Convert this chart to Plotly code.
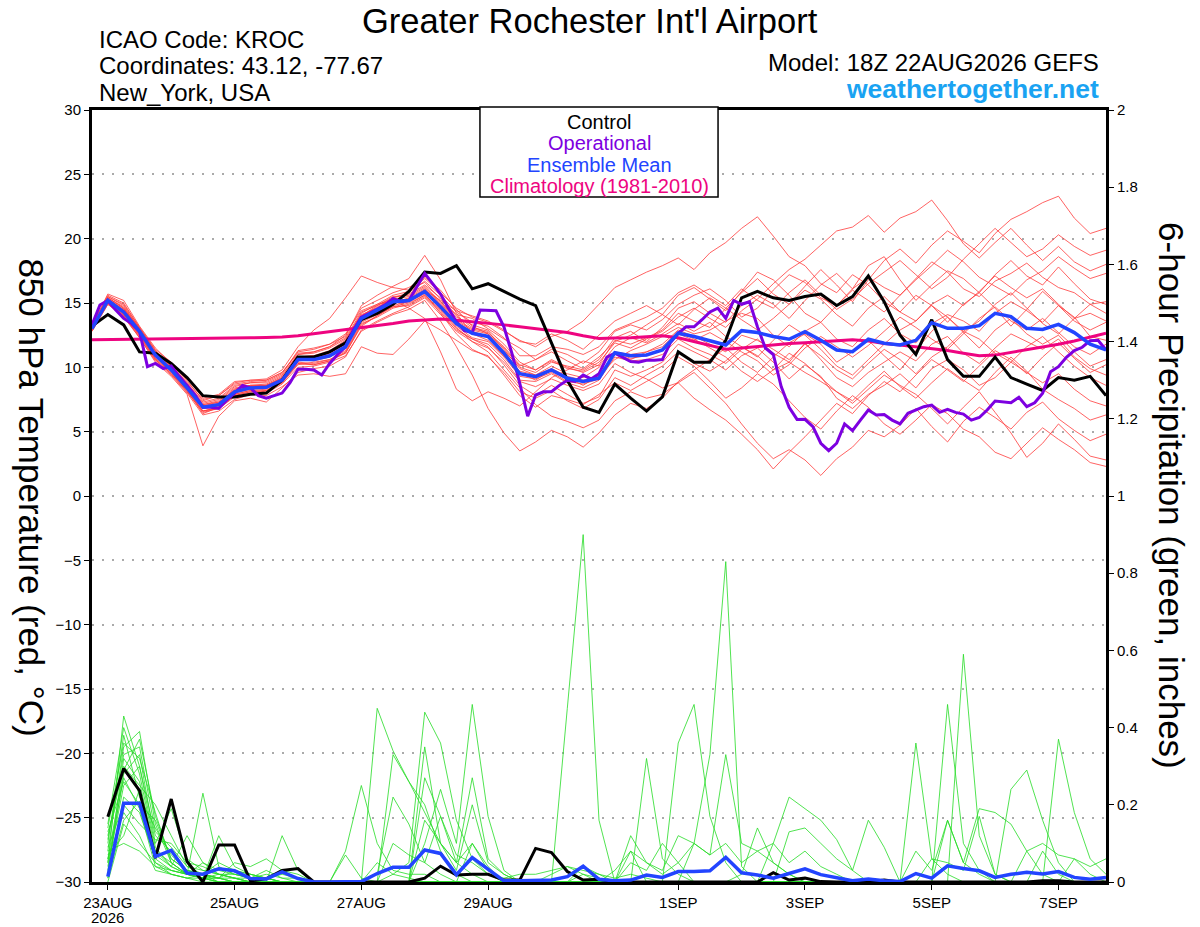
import pandas as pd
import plotly.graph_objects as go

# time axes (6-hourly temps from analysis, 3-hourly operational, 6-hour precip totals)
temp_times = pd.date_range("2026-08-22 18:00", periods=65, freq="6h")
oper_times = pd.date_range("2026-08-22 18:00", periods=129, freq="3h")
precip_times = pd.date_range("2026-08-23 00:00", periods=64, freq="6h")

# 850 hPa temperature (C)
control_t = [13.2, 14.1, 13.3, 11.2, 11.1, 10.3, 9.2, 7.8, 7.7, 7.7, 7.9, 8.0, 9.0, 10.8, 10.8, 11.2, 11.9,
             13.7, 14.2, 14.9, 15.9, 17.4, 17.3, 17.9, 16.1, 16.5, 15.9, 15.3, 14.8, 11.9, 9.0, 6.9, 6.5,
             8.7, 7.6, 6.6, 7.7, 11.2, 10.4, 10.4, 12.1, 15.4, 15.9, 15.4, 15.2, 15.5, 15.7, 14.8, 15.5,
             17.1, 15.1, 12.5, 11.0, 13.7, 10.6, 9.3, 9.3, 10.8, 9.2, 8.7, 8.2, 9.2, 9.0, 9.3, 7.8]

mean_t = [13.0, 15.2, 14.3, 12.8, 10.95, 9.8, 8.4, 6.9, 7.1, 8.1, 8.4, 8.45, 9.0, 10.6, 10.6, 10.9, 11.6,
          13.8, 14.45, 15.1, 15.2, 15.9, 14.7, 13.4, 12.65, 12.4, 11.1, 9.5, 9.27, 9.8, 9.15, 8.9, 9.15,
          11.14, 10.9, 10.96, 11.35, 12.65, 12.4, 12.1, 11.74, 12.85, 12.7, 12.4, 12.18, 12.77, 12.1, 11.35,
          11.22, 12.18, 11.87, 11.74, 12.1, 13.47, 13.03, 13.03, 13.24, 14.2, 13.94, 13.03, 12.95, 13.34,
          12.7, 11.8, 11.35]

clim_t = [12.15, 12.16, 12.17, 12.18, 12.2, 12.21, 12.22, 12.24, 12.25, 12.27, 12.3, 12.32, 12.35, 12.45,
          12.6, 12.75, 12.9, 13.05, 13.25, 13.4, 13.6, 13.7, 13.75, 13.65, 13.55, 13.45, 13.3, 13.15, 13.0,
          12.85, 12.7, 12.45, 12.25, 12.28, 12.3, 12.38, 12.45, 12.3, 12.0, 11.7, 11.4, 11.5, 11.62, 11.74,
          11.85, 11.92, 12.0, 12.1, 12.15, 12.05, 11.85, 11.74, 11.6, 11.45, 11.3, 11.1, 10.9, 10.95, 11.15,
          11.35, 11.55, 11.8, 12.05, 12.35, 12.65]

oper_t = [13.3, 14.85, 15.2, 14.45, 13.8, 13.4, 12.8, 10.05, 10.3, 9.9, 10.1, 9.3, 8.6, 7.85, 6.9, 6.9,
          6.8, 7.45, 8.0, 8.6, 8.4, 7.8, 7.6, 7.8, 8.0, 8.8, 9.85, 9.85, 9.8, 9.4, 10.3, 11.0, 11.6, 12.9,
          13.9, 14.2, 14.5, 14.85, 15.35, 15.1, 15.2, 16.3, 17.3, 16.5, 15.7, 14.6, 13.55, 12.85, 12.7,
          14.45, 14.4, 14.4, 13.15, 11.1, 8.75, 6.2, 7.85, 8.1, 8.1, 8.6, 9.0, 8.9, 9.4, 9.1, 9.5, 10.8,
          11.1, 10.8, 10.45, 10.4, 10.55, 10.55, 10.6, 11.9, 12.65, 13.15, 13.15, 13.7, 14.3, 14.6, 13.8,
          15.2, 14.9, 15.1, 13.15, 11.5, 11.0, 8.5, 6.9, 5.95, 5.96, 5.39, 4.1, 3.52, 4.1, 5.6, 5.08, 5.9,
          6.68, 6.3, 6.33, 5.9, 5.6, 6.43, 6.68, 6.94, 7.07, 6.5, 6.74, 6.5, 6.37, 5.9, 6.1, 6.68, 7.38,
          7.33, 7.25, 7.67, 6.94, 7.25, 7.98, 9.66, 10.05, 10.78, 11.3, 11.56, 12.07, 12.1, 11.35]

members_t = [
    [13.1, 15.5, 14.8, 13.0, 11.2, 10.0, 8.6, 7.0, 7.3, 8.3, 8.6, 8.7, 9.3, 11.0, 11.2, 11.6, 12.5, 14.6, 15.2,
     15.8, 16.2, 17.0, 16.0, 14.5, 13.2, 12.6, 11.3, 10.0, 9.6, 10.4, 10.1, 9.8, 10.6, 12.3, 12.8, 12.0, 13.1,
     14.6, 15.1, 14.2, 13.5, 14.8, 15.6, 14.9, 13.8, 15.2, 16.4, 17.3, 16.1, 17.9, 18.6, 16.8, 15.2, 16.4,
     17.5, 16.9, 15.8, 17.2, 18.3, 17.1, 16.4, 17.8, 16.5, 15.3, 14.9],
    [12.9, 15.0, 14.1, 12.6, 10.7, 9.6, 8.2, 6.4, 6.9, 7.9, 8.2, 8.1, 8.8, 10.2, 10.4, 10.6, 11.1, 13.2, 14.0,
     14.8, 15.1, 15.7, 14.2, 12.6, 11.4, 10.8, 9.6, 8.1, 7.6, 8.2, 7.4, 6.8, 7.5, 9.2, 8.6, 9.4, 10.1, 11.2,
     10.3, 9.7, 10.5, 11.6, 10.9, 9.8, 10.4, 11.9, 10.6, 9.2, 8.5, 9.6, 10.4, 11.2, 10.5, 11.8, 12.4, 11.1,
     10.3, 11.5, 12.6, 12.0, 11.4, 12.2, 10.8, 9.9, 9.4],
    [13.3, 15.6, 15.0, 13.1, 11.4, 10.4, 9.2, 7.6, 7.9, 8.9, 9.0, 9.1, 9.8, 11.6, 12.9, 13.8, 15.4, 17.1, 16.6,
     16.2, 16.0, 16.6, 15.3, 14.1, 13.8, 13.0, 12.2, 11.5, 10.6, 11.2, 10.5, 9.9, 10.8, 12.0, 12.5, 13.3,
     14.1, 15.6, 16.2, 15.3, 14.4, 15.9, 17.4, 16.8, 15.6, 14.2, 13.5, 14.8, 16.0, 15.2, 14.3, 15.6, 16.9,
     18.2, 17.4, 16.1, 15.5, 16.7, 17.3, 18.1, 17.0, 16.2, 15.8, 14.9, 15.1],
    [12.8, 14.9, 14.0, 12.3, 10.4, 9.3, 7.9, 3.9, 6.2, 7.4, 7.6, 7.3, 8.4, 9.6, 9.9, 10.1, 10.8, 12.9, 13.6,
     14.2, 14.7, 15.4, 14.1, 12.9, 12.2, 11.6, 10.2, 8.6, 7.8, 8.6, 7.9, 7.2, 7.7, 9.8, 9.3, 9.8, 10.4, 11.8,
     11.2, 10.6, 9.8, 10.9, 11.5, 10.4, 9.1, 10.2, 9.3, 7.6, 6.8, 7.9, 8.6, 9.5, 8.4, 9.9, 10.6, 9.8, 8.6,
     9.2, 10.4, 9.6, 8.8, 9.5, 8.3, 7.4, 7.0],
    [13.0, 15.3, 14.5, 12.9, 11.0, 9.9, 8.5, 6.8, 7.2, 8.2, 8.5, 8.6, 9.1, 10.7, 10.8, 11.2, 11.9, 14.0, 14.8,
     15.5, 15.6, 16.3, 15.1, 13.9, 13.3, 12.9, 11.8, 10.4, 9.8, 10.6, 10.0, 9.6, 10.2, 12.1, 11.8, 12.3, 12.9,
     14.2, 13.6, 13.1, 14.6, 15.8, 16.9, 15.7, 14.9, 16.3, 17.6, 16.4, 15.1, 16.8, 18.3, 19.2, 18.1, 19.5,
     20.6, 19.8, 18.9, 20.4, 21.5, 22.1, 22.8, 23.3, 21.6, 20.4, 20.8],
    [13.2, 15.1, 14.2, 12.7, 10.9, 9.7, 8.3, 6.6, 6.9, 7.8, 8.1, 8.2, 8.9, 10.3, 10.2, 10.5, 11.2, 13.4, 13.9,
     14.6, 14.9, 15.6, 14.5, 13.1, 12.0, 11.2, 9.8, 8.4, 7.1, 6.2, 5.8, 5.3, 5.9, 7.4, 8.1, 7.6, 7.9, 8.8,
     9.6, 8.4, 7.2, 5.6, 4.1, 2.9, 3.6, 2.8, 1.6, 2.9, 3.8, 5.1, 4.6, 5.5, 6.8, 5.4, 4.2, 5.8, 6.9, 6.1, 5.2,
     6.5, 7.3, 6.0, 5.1, 4.3, 4.8],
    [13.0, 15.4, 14.6, 13.0, 11.1, 10.1, 8.7, 7.2, 7.5, 8.5, 8.8, 8.9, 9.5, 11.3, 11.5, 11.8, 12.6, 14.4, 14.9,
     15.6, 15.9, 16.9, 15.8, 14.6, 13.9, 13.5, 12.8, 12.1, 11.6, 12.4, 12.8, 13.6, 14.9, 16.2, 16.8, 17.4,
     17.9, 18.5, 17.6, 18.9, 19.7, 20.8, 21.7, 20.2, 18.6, 17.9, 16.5, 15.8, 17.2, 16.4, 15.1, 14.3, 15.6,
     14.8, 13.5, 14.9, 15.8, 14.6, 13.2, 14.5, 15.9, 14.8, 13.6, 12.9, 13.5],
    [12.9, 15.0, 14.0, 12.4, 10.6, 9.5, 8.1, 6.5, 6.8, 7.7, 8.0, 8.0, 8.7, 10.0, 10.1, 10.4, 10.9, 12.8, 13.5,
     14.1, 14.5, 15.2, 13.6, 11.6, 9.4, 6.8, 4.9, 3.5, 4.2, 5.1, 4.6, 3.8, 4.9, 6.3, 7.2, 6.8, 7.6, 8.9, 9.8,
     10.6, 11.5, 10.4, 9.6, 10.8, 11.9, 12.6, 11.8, 10.4, 11.2, 12.1, 10.9, 9.8, 11.3, 12.8, 13.9, 12.7, 11.5,
     12.9, 13.8, 12.6, 11.8, 12.5, 11.2, 10.1, 10.6],
    [13.2, 15.7, 15.2, 13.2, 11.5, 10.3, 9.0, 7.4, 7.8, 8.7, 8.9, 9.0, 9.6, 11.2, 11.4, 11.8, 12.4, 14.8, 15.6,
     16.3, 16.9, 18.7, 16.8, 14.2, 12.6, 12.1, 10.9, 9.6, 9.0, 9.8, 9.2, 8.6, 9.4, 10.6, 11.3, 11.8, 12.4,
     13.1, 12.6, 12.9, 13.6, 14.2, 13.8, 12.5, 11.6, 12.8, 13.5, 12.2, 11.6, 12.9, 13.8, 12.6, 11.9, 13.4,
     14.1, 13.6, 12.8, 14.2, 15.1, 14.4, 13.5, 14.8, 13.9, 12.4, 12.1],
    [13.1, 15.2, 14.4, 12.9, 11.0, 9.9, 8.6, 7.1, 7.4, 8.4, 8.6, 8.6, 9.2, 10.8, 10.9, 11.3, 12.1, 14.2, 14.9,
     15.2, 14.6, 13.8, 11.2, 8.3, 7.4, 8.1, 7.6, 7.0, 8.1, 9.2, 9.8, 10.5, 10.1, 11.6, 12.3, 11.9, 12.6, 13.4,
     12.8, 13.5, 12.4, 11.6, 10.8, 12.1, 13.3, 12.5, 11.4, 10.1, 9.4, 10.6, 11.8, 12.9, 13.6, 14.9, 15.6,
     14.8, 15.9, 17.1, 16.2, 15.4, 16.1, 14.9, 13.8, 14.2, 13.6],
    [12.8, 14.9, 13.9, 12.3, 10.5, 9.4, 8.0, 6.3, 6.6, 7.5, 7.9, 7.8, 8.5, 9.4, 9.5, 9.3, 9.5, 11.6, 11.1,
     11.0, 12.2, 13.6, 12.9, 12.1, 11.3, 10.9, 9.4, 7.8, 6.9, 7.8, 7.5, 7.1, 7.9, 8.8, 8.2, 8.9, 9.6, 10.8,
     10.1, 8.9, 7.6, 8.4, 9.5, 8.7, 7.4, 6.1, 5.2, 6.6, 7.8, 6.9, 5.6, 4.8, 5.9, 7.1, 6.4, 5.2, 4.6, 3.4, 2.9,
     4.1, 5.3, 4.4, 3.6, 2.6, 2.3],
    [13.0, 15.3, 14.3, 12.8, 11.0, 9.8, 8.4, 6.9, 7.0, 8.0, 8.3, 8.4, 9.0, 10.6, 10.5, 10.8, 11.5, 13.6, 14.3,
     15.0, 15.4, 16.1, 15.0, 13.6, 12.9, 12.6, 11.5, 10.1, 10.6, 11.4, 11.0, 10.3, 11.2, 12.8, 13.3, 12.9,
     13.7, 14.9, 15.6, 16.1, 15.2, 13.9, 14.6, 16.0, 17.2, 16.6, 15.4, 14.8, 16.1, 17.0, 16.2, 15.6, 16.8,
     17.9, 19.1, 18.2, 17.0, 16.3, 15.6, 16.8, 17.5, 18.6, 17.7, 16.9, 17.3],
    [13.1, 15.4, 14.7, 13.0, 11.3, 10.2, 8.8, 7.3, 7.6, 8.6, 8.8, 8.8, 9.4, 11.0, 11.1, 11.5, 12.2, 14.1, 14.6,
     15.4, 15.7, 16.4, 15.4, 14.0, 13.1, 12.8, 11.4, 9.9, 9.4, 10.1, 9.5, 9.2, 10.0, 11.1, 10.6, 11.2, 11.8,
     12.9, 12.4, 11.8, 11.2, 12.5, 12.1, 11.4, 10.6, 11.8, 10.9, 9.8, 9.1, 10.3, 11.4, 10.6, 9.5, 10.8, 11.6,
     12.8, 12.2, 11.1, 10.4, 11.6, 12.4, 11.2, 10.1, 9.2, 8.6],
    [13.0, 15.2, 14.4, 12.8, 10.9, 9.8, 8.4, 6.9, 7.1, 8.1, 8.4, 8.5, 9.1, 10.7, 10.7, 11.1, 11.8, 13.9, 14.5,
     15.1, 15.3, 16.0, 15.2, 14.4, 14.0, 13.6, 12.9, 12.0, 11.8, 12.6, 12.1, 11.4, 12.5, 13.6, 14.2, 14.8,
     14.1, 13.3, 14.5, 15.4, 14.6, 13.7, 12.9, 13.8, 14.9, 16.0, 15.3, 14.1, 13.2, 14.6, 15.5, 14.3, 13.6,
     14.8, 13.9, 12.8, 13.6, 14.9, 15.8, 14.6, 13.4, 12.6, 13.8, 14.9, 14.2],
    [12.9, 15.1, 14.1, 12.5, 10.7, 9.6, 8.2, 6.6, 6.9, 7.9, 8.2, 8.3, 8.9, 10.4, 10.3, 10.6, 11.3, 13.5, 14.1,
     14.7, 14.8, 15.5, 14.3, 12.8, 12.0, 11.5, 10.4, 8.9, 8.5, 9.1, 8.6, 8.2, 8.7, 10.3, 9.6, 9.1, 8.4, 8.8,
     7.6, 6.7, 5.9, 4.8, 3.6, 2.1, 3.4, 4.6, 5.9, 7.2, 6.4, 7.8, 8.9, 8.1, 9.4, 10.6, 9.8, 8.9, 10.1, 11.3,
     10.6, 9.5, 10.8, 11.9, 10.7, 9.6, 10.2],
    [13.1, 15.3, 14.5, 13.0, 11.1, 10.0, 8.6, 7.1, 7.3, 8.2, 8.5, 8.6, 9.2, 10.8, 10.9, 11.2, 12.0, 14.0, 14.7,
     15.3, 15.5, 16.2, 15.1, 13.7, 13.0, 12.7, 11.6, 10.2, 9.8, 10.5, 9.9, 9.7, 10.4, 11.9, 11.5, 12.2, 12.8,
     13.9, 14.6, 13.8, 13.1, 14.4, 15.3, 16.5, 17.6, 18.4, 19.5, 20.6, 20.9, 21.8, 20.5, 21.6, 22.1, 23.0,
     21.4, 19.6, 18.5, 19.7, 20.8, 19.5, 18.3, 19.4, 18.2, 17.5, 18.0],
    [12.9, 15.0, 14.0, 12.5, 10.6, 9.5, 8.1, 6.6, 6.8, 7.8, 8.1, 8.2, 8.8, 10.3, 10.2, 10.5, 11.1, 13.3, 14.0,
     14.7, 15.0, 15.6, 14.4, 13.0, 12.2, 11.8, 10.6, 9.0, 8.9, 9.5, 8.8, 8.4, 9.0, 10.8, 10.5, 10.6, 11.0,
     12.2, 11.5, 11.0, 10.3, 11.4, 12.2, 11.1, 10.4, 9.6, 8.9, 8.1, 7.2, 8.3, 9.4, 8.6, 7.9, 6.8, 5.6, 6.9,
     8.1, 6.5, 4.9, 3.0, 4.1, 5.6, 4.4, 3.1, 2.8],
    [13.2, 15.5, 14.9, 13.1, 11.3, 10.1, 8.9, 7.5, 7.8, 8.8, 9.0, 9.0, 9.6, 11.1, 11.2, 11.6, 12.3, 14.3, 14.8,
     15.4, 15.8, 16.7, 15.6, 14.3, 13.5, 13.2, 12.3, 10.9, 10.9, 11.6, 11.4, 11.0, 11.6, 12.9, 13.4, 13.9,
     14.6, 15.8, 16.4, 15.6, 14.8, 16.1, 15.2, 14.6, 15.8, 16.8, 15.6, 14.5, 15.3, 16.5, 17.4, 18.3, 17.2,
     16.1, 17.0, 18.4, 19.6, 20.8, 19.7, 18.6, 19.2, 20.3, 19.4, 18.7, 19.1],
    [13.0, 15.2, 14.3, 12.7, 10.8, 9.7, 8.4, 6.8, 7.0, 8.1, 8.4, 8.5, 9.0, 10.5, 10.6, 10.8, 11.6, 13.7, 14.4,
     15.0, 15.1, 15.8, 14.6, 13.2, 12.3, 12.0, 10.8, 9.3, 9.1, 9.6, 8.9, 8.7, 9.1, 11.2, 10.7, 10.9, 11.4,
     12.6, 12.1, 12.7, 12.0, 11.2, 10.5, 9.4, 10.2, 11.5, 12.4, 11.6, 10.8, 11.7, 12.8, 13.9, 13.1, 12.2,
     11.4, 12.6, 13.8, 14.7, 13.6, 12.9, 13.8, 12.7, 11.6, 11.0, 11.8],
    [13.1, 15.4, 14.6, 12.9, 11.0, 9.9, 8.6, 7.0, 7.2, 8.3, 8.6, 8.6, 9.1, 10.7, 10.8, 11.0, 11.7, 13.8, 14.5,
     15.2, 15.3, 16.0, 14.9, 13.5, 12.8, 12.4, 11.2, 9.7, 9.4, 9.9, 9.3, 9.0, 9.3, 11.2, 11.0, 11.2, 11.6,
     12.8, 12.2, 11.5, 10.8, 9.7, 8.9, 9.8, 11.1, 10.3, 9.2, 8.1, 7.4, 8.6, 9.7, 8.5, 7.6, 8.8, 9.9, 9.0, 8.2,
     9.6, 10.8, 9.7, 8.3, 7.5, 6.8, 5.9, 6.3],
]

# 6-hour precipitation (inches)
control_p = [0.169, 0.294, 0.237, 0.062, 0.215, 0.053, 0.0, 0.096, 0.096, 0.003,
             0.008, 0.03, 0.035, 0, 0, 0, 0, 0, 0, 0,
             0.01, 0.041, 0.018, 0.02, 0.02, 0.005, 0.005, 0.087, 0.076, 0.027,
             0.005, 0.007, 0, 0, 0, 0, 0, 0, 0, 0,
             0, 0, 0.024, 0.005, 0.01, 0.001, 0, 0, 0, 0.005,
             0, 0, 0, 0, 0, 0, 0, 0, 0, 0.003,
             0.003, 0, 0, 0]

mean_p = [0.014, 0.204, 0.204, 0.066, 0.082, 0.023, 0.02, 0.034, 0.029, 0.009,
          0.008, 0.026, 0.009, 0, 0, 0, 0.001, 0.022, 0.038, 0.038,
          0.083, 0.074, 0.019, 0.063, 0.033, 0.003, 0.003, 0.005, 0.005, 0.014,
          0.041, 0.007, 0.003, 0.005, 0.018, 0.012, 0.027, 0.027, 0.029, 0.064,
          0.024, 0.018, 0.01, 0.022, 0.034, 0.019, 0.01, 0.003, 0.008, 0.003,
          0.001, 0.022, 0.01, 0.042, 0.035, 0.029, 0.012, 0.02, 0.025, 0.021,
          0.027, 0.012, 0.007, 0.012]

members_p = [
    [0.05, 0.43, 0.30, 0.12, 0.08, 0.03, 0.02, 0.01, 0, 0, 0, 0, 0, 0, 0, 0, 0, 0.45, 0.34, 0.26,
     0.18, 0.10, 0.05, 0.02, 0, 0, 0, 0, 0, 0.45, 0.90, 0.16, 0, 0, 0, 0, 0, 0, 0, 0,
     0, 0, 0, 0, 0, 0, 0, 0, 0, 0, 0, 0, 0, 0, 0, 0, 0, 0, 0, 0, 0, 0, 0, 0],
    [0.08, 0.35, 0.39, 0.15, 0.05, 0.02, 0.01, 0, 0, 0, 0, 0, 0, 0, 0, 0, 0, 0, 0.02, 0.05,
     0.44, 0.36, 0.16, 0.06, 0.02, 0, 0, 0, 0, 0, 0.02, 0, 0, 0, 0.32, 0.06, 0.02, 0, 0, 0,
     0, 0, 0, 0, 0, 0, 0, 0, 0, 0, 0, 0.36, 0.06, 0.02, 0, 0, 0, 0, 0, 0, 0, 0, 0, 0],
    [0.12, 0.30, 0.25, 0.20, 0.12, 0.04, 0.02, 0, 0, 0, 0, 0, 0, 0, 0, 0, 0, 0, 0, 0,
     0.10, 0.24, 0.10, 0.46, 0.17, 0.03, 0, 0, 0, 0, 0, 0, 0, 0, 0, 0, 0.36, 0.46, 0.17, 0.05,
     0, 0, 0, 0, 0, 0, 0, 0, 0, 0, 0, 0, 0, 0, 0, 0, 0, 0, 0, 0, 0, 0, 0, 0],
    [0.03, 0.28, 0.33, 0.10, 0.19, 0.06, 0.03, 0.02, 0.01, 0, 0, 0.12, 0.03, 0, 0, 0, 0, 0, 0, 0,
     0.27, 0.17, 0.05, 0.27, 0.06, 0.02, 0, 0, 0, 0, 0, 0, 0, 0, 0, 0, 0, 0.10, 0.33, 0.83,
     0.04, 0, 0, 0, 0, 0, 0, 0, 0, 0, 0, 0, 0, 0, 0, 0, 0, 0, 0, 0, 0, 0, 0, 0],
    [0.01, 0.22, 0.18, 0.06, 0.03, 0.02, 0.23, 0.04, 0.02, 0.01, 0.02, 0.01, 0, 0, 0, 0, 0, 0.02, 0.22, 0.15,
     0.05, 0.02, 0, 0.10, 0.03, 0, 0, 0, 0, 0, 0, 0, 0, 0, 0, 0, 0, 0, 0, 0,
     0.02, 0.14, 0.05, 0.02, 0, 0, 0, 0, 0, 0, 0, 0, 0, 0, 0.59, 0.12, 0.02, 0, 0, 0, 0, 0, 0, 0],
    [0.15, 0.40, 0.28, 0.08, 0.05, 0.02, 0.01, 0.12, 0.04, 0.02, 0.01, 0, 0, 0, 0, 0, 0, 0, 0, 0,
     0, 0, 0, 0, 0, 0, 0, 0, 0, 0, 0.04, 0.02, 0, 0.12, 0.05, 0.03, 0.12, 0.10, 0.07, 0.10,
     0.05, 0.08, 0.10, 0.22, 0.19, 0.16, 0.11, 0.03, 0, 0, 0, 0, 0, 0, 0, 0, 0, 0, 0, 0, 0, 0, 0, 0],
    [0.06, 0.18, 0.12, 0.03, 0.02, 0.01, 0.02, 0.01, 0.05, 0.04, 0.06, 0.03, 0.02, 0, 0, 0.07, 0.01, 0, 0, 0,
     0, 0, 0, 0, 0, 0, 0, 0, 0, 0, 0, 0, 0, 0.08, 0, 0, 0, 0, 0, 0,
     0, 0, 0, 0.13, 0.14, 0.10, 0.06, 0.03, 0.16, 0.09, 0, 0, 0, 0, 0, 0, 0, 0, 0, 0, 0, 0, 0, 0],
    [0, 0.15, 0.10, 0.05, 0.03, 0.02, 0.01, 0, 0, 0, 0, 0, 0, 0, 0, 0.08, 0.25, 0.10, 0.03, 0.02,
     0.02, 0, 0, 0, 0, 0, 0, 0, 0, 0, 0, 0, 0, 0.05, 0.03, 0.10, 0.05, 0, 0, 0,
     0, 0, 0, 0, 0, 0, 0, 0, 0, 0, 0, 0.08, 0.03, 0.16, 0.05, 0.19, 0.18, 0.15, 0.08, 0.02, 0, 0, 0, 0],
    [0.10, 0.38, 0.22, 0.14, 0.07, 0.03, 0.02, 0.01, 0, 0, 0, 0, 0, 0, 0, 0, 0, 0, 0, 0,
     0.35, 0.10, 0.03, 0.20, 0.05, 0.02, 0, 0, 0, 0, 0, 0, 0, 0, 0, 0, 0, 0, 0, 0,
     0, 0, 0, 0, 0, 0, 0, 0, 0, 0, 0, 0, 0, 0.46, 0.10, 0.03, 0, 0.24, 0.29, 0.16, 0.05, 0, 0, 0],
    [0.04, 0.25, 0.30, 0.09, 0.04, 0.12, 0.05, 0.03, 0.02, 0.01, 0.01, 0.02, 0.01, 0, 0, 0, 0, 0, 0.33, 0.26,
     0.20, 0.08, 0.02, 0, 0, 0, 0, 0, 0, 0, 0, 0, 0, 0, 0, 0, 0, 0, 0, 0,
     0, 0, 0, 0, 0, 0, 0, 0, 0, 0, 0, 0, 0, 0, 0, 0, 0, 0, 0, 0, 0.37, 0.18, 0.06, 0.02],
    [0.09, 0.20, 0.15, 0.11, 0.10, 0.05, 0.04, 0.02, 0.01, 0.01, 0.01, 0, 0, 0, 0, 0, 0, 0, 0, 0,
     0, 0, 0, 0, 0, 0, 0, 0, 0.02, 0.04, 0.03, 0.02, 0.01, 0.02, 0.01, 0, 0, 0, 0, 0,
     0, 0, 0, 0, 0, 0, 0, 0, 0, 0, 0, 0, 0, 0, 0, 0, 0, 0, 0, 0, 0, 0.06, 0.04, 0.06],
    [0.02, 0.32, 0.26, 0.07, 0.04, 0.02, 0.01, 0.01, 0, 0, 0, 0, 0, 0, 0, 0, 0, 0, 0, 0,
     0.16, 0.10, 0.05, 0.10, 0.04, 0, 0, 0, 0, 0, 0, 0, 0.03, 0.08, 0.05, 0.02, 0.05, 0.10, 0.07, 0.33,
     0.10, 0.08, 0.05, 0.02, 0, 0, 0, 0, 0, 0, 0, 0, 0, 0, 0, 0, 0, 0, 0, 0, 0, 0, 0, 0],
    [0.13, 0.26, 0.20, 0.16, 0.06, 0.03, 0.02, 0.01, 0.01, 0, 0, 0, 0, 0, 0, 0, 0, 0, 0, 0,
     0, 0, 0, 0, 0, 0, 0, 0, 0, 0, 0, 0, 0, 0, 0, 0, 0, 0, 0, 0,
     0, 0, 0, 0, 0, 0, 0, 0, 0, 0, 0, 0, 0.06, 0.05, 0.03, 0.17, 0.02, 0, 0.08, 0.10, 0.07, 0.06, 0.02, 0],
    [0.07, 0.12, 0.24, 0.05, 0.02, 0.01, 0.01, 0.01, 0.03, 0.02, 0.01, 0, 0, 0, 0, 0, 0, 0, 0.10, 0.07,
     0.05, 0.17, 0.07, 0.05, 0.02, 0.01, 0.02, 0.02, 0.03, 0.04, 0.02, 0.01, 0, 0, 0, 0, 0, 0, 0, 0,
     0, 0, 0, 0, 0, 0, 0, 0, 0, 0, 0, 0, 0, 0, 0, 0, 0, 0, 0, 0, 0, 0, 0, 0],
    [0.11, 0.33, 0.35, 0.13, 0.09, 0.04, 0.03, 0.02, 0.02, 0.01, 0.03, 0.01, 0.01, 0, 0, 0, 0, 0, 0, 0,
     0, 0, 0, 0, 0, 0, 0, 0, 0, 0, 0, 0, 0, 0, 0, 0, 0, 0, 0, 0,
     0, 0, 0, 0, 0, 0, 0, 0, 0, 0, 0, 0, 0, 0.16, 0.05, 0.02, 0, 0, 0, 0, 0, 0, 0, 0],
    [0.05, 0.27, 0.19, 0.04, 0.02, 0.01, 0, 0, 0, 0, 0, 0, 0, 0, 0, 0, 0, 0, 0, 0,
     0, 0, 0, 0, 0, 0, 0, 0, 0, 0, 0, 0, 0, 0, 0, 0, 0, 0, 0, 0,
     0, 0, 0.10, 0.05, 0.08, 0.04, 0.02, 0, 0, 0, 0, 0, 0, 0, 0, 0, 0, 0, 0, 0.08, 0.02, 0, 0, 0],
    [0.14, 0.36, 0.32, 0.18, 0.05, 0.02, 0.01, 0, 0, 0, 0, 0, 0, 0, 0, 0, 0, 0.05, 0.02, 0.01,
     0, 0, 0, 0, 0, 0, 0, 0, 0, 0, 0, 0, 0, 0, 0, 0, 0, 0, 0, 0,
     0, 0, 0, 0, 0, 0, 0, 0, 0, 0, 0, 0, 0, 0, 0, 0, 0, 0, 0, 0, 0, 0, 0, 0],
    [0.08, 0.10, 0.08, 0.04, 0.03, 0.02, 0.05, 0.02, 0.01, 0, 0, 0, 0, 0, 0, 0, 0, 0, 0, 0,
     0, 0, 0, 0, 0, 0, 0, 0, 0, 0, 0, 0, 0, 0, 0, 0, 0, 0, 0, 0,
     0, 0, 0, 0, 0, 0, 0, 0, 0, 0, 0, 0, 0, 0, 0, 0, 0, 0, 0, 0, 0, 0, 0, 0],
    [0.06, 0.29, 0.37, 0.17, 0.06, 0.03, 0.02, 0.05, 0.03, 0.02, 0.01, 0, 0, 0, 0, 0, 0, 0, 0, 0,
     0, 0, 0, 0, 0, 0, 0, 0, 0, 0, 0, 0, 0, 0, 0, 0, 0, 0, 0, 0,
     0, 0, 0, 0, 0, 0, 0, 0, 0, 0, 0, 0, 0, 0, 0, 0, 0, 0, 0, 0, 0, 0, 0, 0],
    [0.01, 0.16, 0.21, 0.08, 0.04, 0.02, 0.01, 0.02, 0.01, 0, 0, 0, 0, 0, 0, 0, 0, 0, 0, 0,
     0, 0, 0, 0, 0, 0, 0, 0, 0, 0, 0, 0, 0, 0, 0, 0, 0, 0, 0, 0,
     0, 0, 0, 0, 0, 0, 0, 0, 0, 0, 0, 0, 0, 0, 0, 0, 0, 0, 0, 0, 0, 0, 0, 0],
]

tick_dates = ["2026-08-23", "2026-08-25", "2026-08-27", "2026-08-29",
              "2026-09-01", "2026-09-03", "2026-09-05", "2026-09-07"]
tick_labels = ["23AUG", "25AUG", "27AUG", "29AUG", "1SEP", "3SEP", "5SEP", "7SEP"]
start_year = "2026"

legend_items = [("Control", "#000000"), ("Operational", "#7d00e0"),
                ("Ensemble Mean", "#2244ff"), ("Climatology (1981-2010)", "#ee0480")]

FONT = "Liberation Sans, Arial, Helvetica, sans-serif"
RED = "rgba(255,60,60,0.8)"
GREEN = "rgba(40,220,40,0.9)"
BLACK = "#000000"
PURPLE = "#7d00e0"
BLUE = "#2244ff"
PINK = "#ee0480"

fig = go.Figure()

# ensemble members
for m in members_t:
    fig.add_trace(go.Scatter(x=temp_times, y=m, mode="lines", line=dict(color=RED, width=1),
                             showlegend=False, hoverinfo="skip"))
for m in members_p:
    fig.add_trace(go.Scatter(x=precip_times, y=m, mode="lines", line=dict(color=GREEN, width=0.9),
                             yaxis="y2", showlegend=False, hoverinfo="skip"))

# precip control + mean
fig.add_trace(go.Scatter(x=precip_times, y=control_p, mode="lines", line=dict(color=BLACK, width=3),
                         yaxis="y2", showlegend=False))
fig.add_trace(go.Scatter(x=precip_times, y=mean_p, mode="lines", line=dict(color=BLUE, width=3.5),
                         yaxis="y2", showlegend=False))

# temperature lines
fig.add_trace(go.Scatter(x=temp_times, y=clim_t, mode="lines", line=dict(color=PINK, width=3),
                         showlegend=False))
fig.add_trace(go.Scatter(x=temp_times, y=control_t, mode="lines", line=dict(color=BLACK, width=3),
                         showlegend=False))
fig.add_trace(go.Scatter(x=oper_times, y=oper_t, mode="lines", line=dict(color=PURPLE, width=3),
                         showlegend=False))
fig.add_trace(go.Scatter(x=temp_times, y=mean_t, mode="lines", line=dict(color=BLUE, width=3.5),
                         showlegend=False))

fig.update_layout(
    width=1200, height=927,
    margin=dict(l=92, r=94, t=110, b=45),
    paper_bgcolor="white", plot_bgcolor="white",
    font=dict(family=FONT, color="black", size=15),
    xaxis=dict(type="date", range=["2026-08-22 18:00", "2026-09-07 18:00"],
               tickvals=tick_dates, ticktext=tick_labels, automargin=False,
               showgrid=False, zeroline=False,
               showline=True, linewidth=3, linecolor="black", mirror=True,
               ticks="outside", ticklen=5, tickwidth=1, tickcolor="black",
               tickfont=dict(size=15)),
    yaxis=dict(range=[-30, 30], tickvals=list(range(-30, 31, 5)), automargin=False,
               showgrid=True, gridcolor="#aaaaaa", griddash="2px,8px", gridwidth=1.5,
               zeroline=False, showline=True, linewidth=3, linecolor="black", mirror=True,
               ticks="outside", ticklen=5, tickwidth=1, tickcolor="black",
               tickfont=dict(size=15)),
    yaxis2=dict(range=[0, 2], overlaying="y", side="right", anchor="x", automargin=False,
                tickvals=[0, 0.2, 0.4, 0.6, 0.8, 1, 1.2, 1.4, 1.6, 1.8, 2],
                ticktext=["0", "0.2", "0.4", "0.6", "0.8", "1", "1.2", "1.4", "1.6", "1.8", "2"],
                showgrid=False, zeroline=False, showline=True, linewidth=3, linecolor="black",
                ticks="outside", ticklen=5, tickwidth=1, tickcolor="black",
                tickfont=dict(size=15)),
)

# year under the first date tick
fig.add_annotation(text=start_year, xref="x", yref="paper", x=tick_dates[0], y=-0.0466,
                   xanchor="center", yanchor="middle", showarrow=False, font=dict(size=15))

# header texts
fig.add_annotation(text="Greater Rochester Int'l Airport", xref="paper", yref="paper",
                   x=0.491, y=1.115, xanchor="center", yanchor="middle", showarrow=False,
                   font=dict(size=34.5))
for txt, yy in [("ICAO Code: KROC", 1.0907), ("Coordinates: 43.12, -77.67", 1.057),
                ("New_York, USA", 1.023)]:
    fig.add_annotation(text=txt, xref="paper", yref="paper", x=0.005, y=yy,
                       xanchor="left", yanchor="middle", showarrow=False, font=dict(size=24))
fig.add_annotation(text="Model: 18Z 22AUG2026 GEFS", xref="paper", yref="paper", x=0.995, y=1.061,
                   xanchor="right", yanchor="middle", showarrow=False, font=dict(size=24))
fig.add_annotation(text="<b>weathertogether.net</b>", xref="paper", yref="paper", x=0.995, y=1.027,
                   xanchor="right", yanchor="middle", showarrow=False,
                   font=dict(size=26.5, color="#1aa3f2"))

# legend box
fig.add_shape(type="rect", xref="paper", yref="paper", x0=0.3826, x1=0.6174, y0=0.8873, y1=1.0039,
              fillcolor="white", line=dict(color="black", width=1.5))
for i, (txt, col) in enumerate(legend_items):
    fig.add_annotation(text=txt, xref="paper", yref="paper", x=0.5, y=0.9845 - i * 0.0277,
                       xanchor="center", yanchor="middle", showarrow=False,
                       font=dict(size=20, color=col))

# axis titles (read top to bottom)
fig.add_annotation(text="850 hPa Temperature (red, °C)", xref="paper", yref="paper",
                   x=-0.06, y=0.498, xanchor="center", yanchor="middle",
                   textangle=90, showarrow=False, font=dict(size=35))
fig.add_annotation(text="6-hour Precipitation (green, inches)", xref="paper", yref="paper",
                   x=1.065, y=0.5, xanchor="center", yanchor="middle",
                   textangle=90, showarrow=False, font=dict(size=35))

# drop the browser's default 8px body margin so the figure sits at the page corner
fig.write_html("out.html", config={"displayModeBar": False},
               post_script="document.body.style.margin = '0';")
